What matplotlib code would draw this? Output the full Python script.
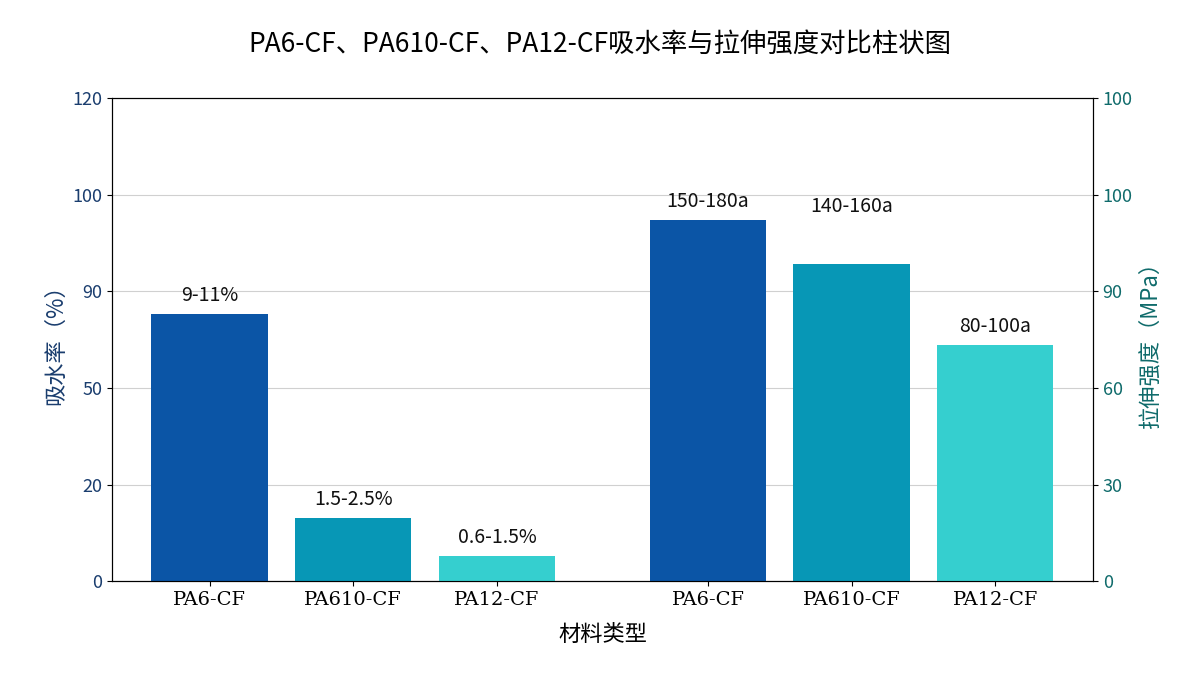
import matplotlib
matplotlib.use("Agg")
import matplotlib.pyplot as plt

plt.rcParams['font.family'] = ['Noto Sans CJK SC', 'DejaVu Sans']

categories = ["PA6-CF", "PA610-CF", "PA12-CF", "PA6-CF", "PA610-CF", "PA12-CF"]
positions = [0, 1, 2, 3.47, 4.47, 5.47]
# bar heights on the shared drawing scale (0-120)
heights = [66.3, 15.6, 6.2, 89.7, 78.8, 58.6]
bar_labels = ["9-11%", "1.5-2.5%", "0.6-1.5%", "150-180a", "140-160a", "80-100a"]
colors = ["#0b55a6", "#0797b6", "#35cfcf", "#0b55a6", "#0797b6", "#35cfcf"]
tick_pos = [0, 24, 48, 72, 96, 120]
left_ticks = ["0", "20", "50", "90", "100", "120"]
right_ticks = ["0", "30", "60", "90", "100", "100"]

fig = plt.figure(figsize=(12, 6.75), dpi=100)
ax = fig.add_axes([0.0933, 0.139, 0.8175, 0.716])
ax.bar(positions, heights, width=0.81, color=colors, zorder=3)
for x, h, t in zip(positions, heights, bar_labels):
    dy = 11.5 if t == "140-160a" else 2
    ax.text(x, h + dy, t, ha="center", va="bottom", fontsize=14, color="#111111")

ax.set_xlim(-0.68, 6.15)
ax.set_ylim(0, 120)
ax.set_yticks(tick_pos)
ax.set_yticklabels(left_ticks, color="#1a3d6e", fontsize=13)
ax.set_xticks(positions)
ax.set_xticklabels(categories, family="DejaVu Serif", fontsize=14)
ax.grid(axis="y", color="#d0d0d0", lw=0.8, zorder=0)
ax.set_ylabel("吸水率（%）", color="#1a3d6e", fontsize=16)
ax.set_xlabel("材料类型", fontsize=16, labelpad=10)
ax.spines["top"].set_color("#333333")

ax2 = ax.twinx()
ax2.set_ylim(0, 120)
ax2.set_yticks(tick_pos)
ax2.set_yticklabels(right_ticks, color="#0f6b6b", fontsize=13)
ax2.set_ylabel("拉伸强度（MPa）", color="#0f6b6b", fontsize=16)

fig.suptitle("PA6-CF、PA610-CF、PA12-CF吸水率与拉伸强度对比柱状图", fontsize=19, y=0.955)
fig.savefig("out.png", dpi=100)
